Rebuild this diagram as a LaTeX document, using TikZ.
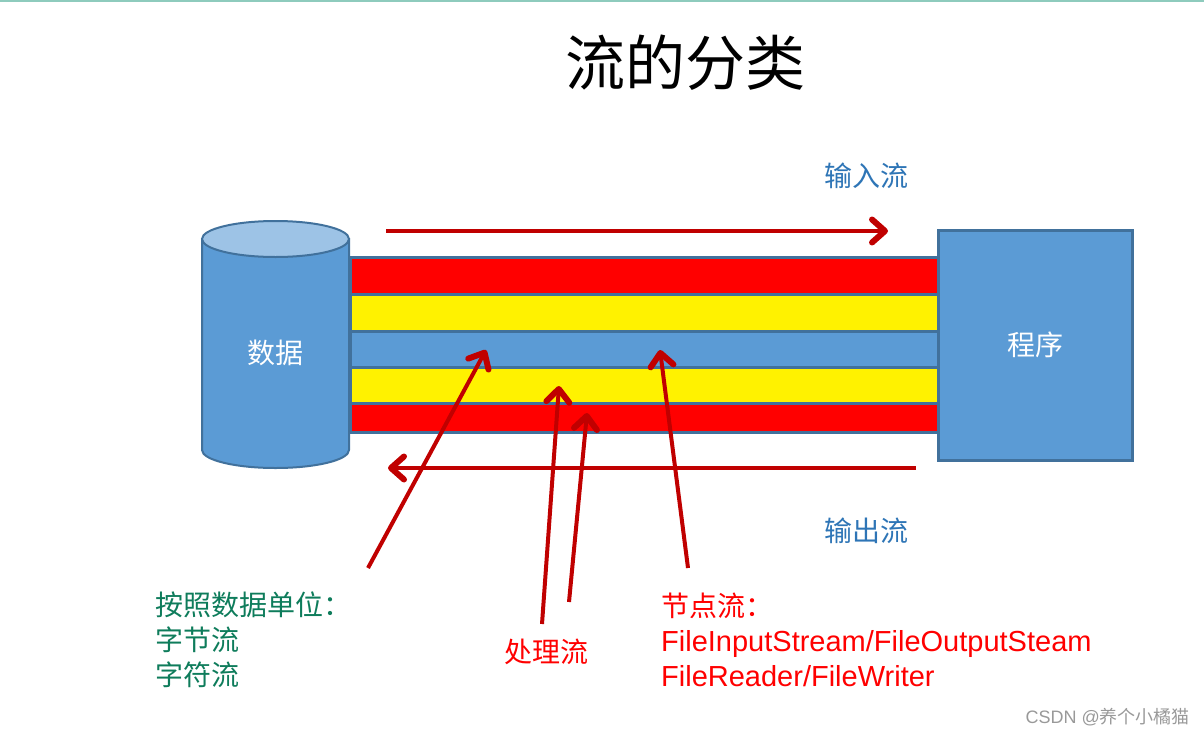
\documentclass[tikz,border=0pt]{standalone}
\usepackage{fontspec}
\setmainfont{Liberation Sans}
\newfontfamily\cjk{Noto Sans CJK SC}
\usetikzlibrary{arrows.meta}
\definecolor{boxblue}{HTML}{5B9BD5}
\definecolor{edgeblue}{HTML}{41719C}
\definecolor{topblue}{HTML}{9DC3E6}
\definecolor{arrowred}{HTML}{C00000}
\definecolor{txtblue}{HTML}{2E75B6}
\definecolor{txtgreen}{HTML}{0E7C5B}
\definecolor{topline}{HTML}{8ECBBD}
\tikzset{
  flow/.style={draw=arrowred, line width=4pt, -{Straight Barb[length=13pt,width=23pt,line width=6pt,round]}},
  band/.style={draw=edgeblue, line width=3pt},
  cjklabel/.style={font=\cjk\fontsize{28}{35}\selectfont, inner sep=0pt},
}
\begin{document}
\begin{tikzpicture}[x=1pt,y=-1pt]
\useasboundingbox (0,0) rectangle (1204,736);
\draw[topline, line width=2pt] (0,1) -- (1204,1);
% title
\node[font=\cjk\fontsize{60}{60}\selectfont, inner sep=0pt] (title) at (685,63) {流的分类};
% tube bands
\filldraw[band, fill=red]    (350,257) rectangle (938,294);
\filldraw[band, fill=yellow] (350,294) rectangle (938,331);
\filldraw[band, fill=boxblue](350,331) rectangle (938,367);
\filldraw[band, fill=yellow] (350,367) rectangle (938,403);
\filldraw[band, fill=red]    (350,403) rectangle (938,432);
% cylinder
\filldraw[draw=edgeblue, line width=2pt, fill=boxblue]
  (202,239) -- (202,450) arc[start angle=180, end angle=0, x radius=73.5, y radius=18] -- (349,239) -- cycle;
\filldraw[draw=edgeblue, line width=2pt, fill=topblue] (275.5,239) ellipse[x radius=73.5, y radius=18];
\node[cjklabel, text=white] (data) at (275,353) {数据};
% program box
\node[draw=edgeblue, line width=3pt, fill=boxblue, minimum width=194pt, minimum height=230pt, inner sep=0pt,
      cjklabel, text=white] (prog) at (1035,345) {程序};
% in / out flows
\coordinate (inS) at (386,231);
\coordinate (inE) at (888,231);
\coordinate (outS) at (916,468);
\coordinate (outE) at (388,468);
\draw[flow] (inS) -- (inE);
\draw[flow] (outS) -- (outE);
\node[cjklabel, text=txtblue] (inlbl) at (866,176) {输入流};
\node[cjklabel, text=txtblue] (outlbl) at (866,531) {输出流};
% labels
\node[cjklabel, text=txtgreen, anchor=west, align=left] (unit) at (155,640) {按照数据单位：\\字节流\\字符流};
\node[cjklabel, text=red] (proc) at (546,652) {处理流};
\node[inner sep=0pt, text=red, anchor=west, align=left, font=\fontsize{29}{35}\selectfont] (node) at (661,640)
  {{\cjk\fontsize{28}{35}\selectfont 节点流：}\\FileInputStream/FileOutputSteam\\FileReader/FileWriter};
% pointer arrows
\coordinate (a1s) at (368,568); \coordinate (a1e) at (486,350);
\coordinate (a2s) at (542,624); \coordinate (a2e) at (559,386);
\coordinate (a3s) at (569,602); \coordinate (a3e) at (587,413);
\coordinate (a4s) at (688,568); \coordinate (a4e) at (660,350);
\draw[flow] (a1s) -- (a1e);
\draw[flow] (a2s) -- (a2e);
\draw[flow] (a3s) -- (a3e);
\draw[flow] (a4s) -- (a4e);
% watermark
\node[anchor=east, inner sep=0pt, text=black!40, font=\fontsize{18}{18}\selectfont] (wm) at (1190,717)
  {CSDN @{\cjk 养个小橘猫}};
\end{tikzpicture}
\end{document}
